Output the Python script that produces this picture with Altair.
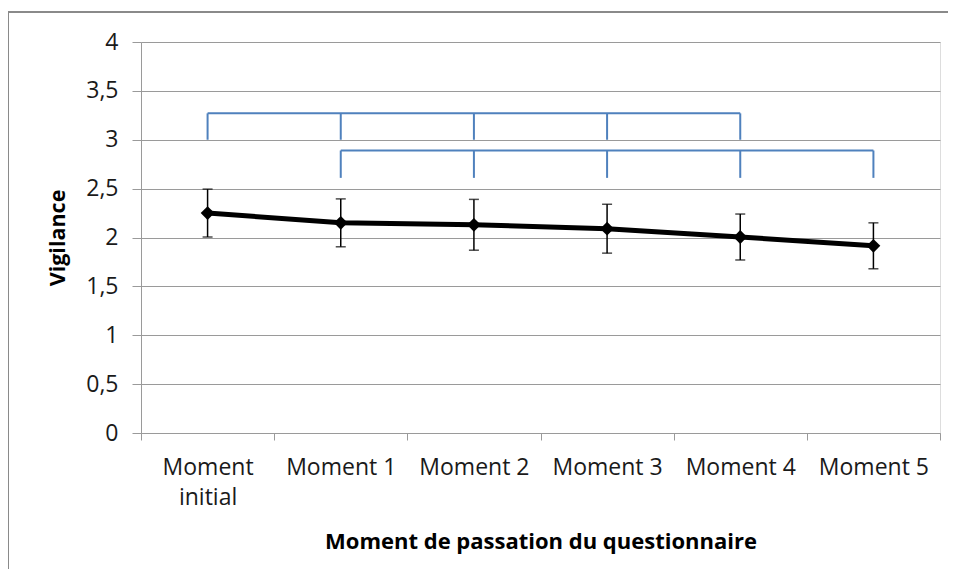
import altair as alt
import pandas as pd

categories = ["Moment initial", "Moment 1", "Moment 2", "Moment 3", "Moment 4", "Moment 5"]
means = [2.25, 2.15, 2.13, 2.09, 2.005, 1.915]
errors = [0.245, 0.245, 0.26, 0.25, 0.235, 0.235]

# significance brackets: (level, bottom of ticks, list of categories)
bracket_levels = [3.27, 2.89]
bracket_bottoms = [3.0, 2.61]
bracket_members = [
    ["Moment initial", "Moment 1", "Moment 2", "Moment 3", "Moment 4"],
    ["Moment 1", "Moment 2", "Moment 3", "Moment 4", "Moment 5"],
]

FONT = "Open Sans"
GRAY = "#9a9a9a"
BLUE = "#4f81bd"

df = pd.DataFrame({
    "moment": categories,
    "mean": means,
    "lo": [m - e for m, e in zip(means, errors)],
    "hi": [m + e for m, e in zip(means, errors)],
})

rows = []
for b, (lvl, bot, mem) in enumerate(zip(bracket_levels, bracket_bottoms, bracket_members)):
    for m in mem:
        rows.append({"bracket": b, "moment": m, "level": lvl, "bottom": bot})
bdf = pd.DataFrame(rows)

x_enc = alt.X(
    "moment:N",
    sort=categories,
    scale=alt.Scale(domain=categories, paddingInner=0, paddingOuter=0),
    axis=alt.Axis(
        title="Moment de passation  du questionnaire",
        labelAngle=0,
        tickBand="extent",
        tickSize=7,
        tickColor=GRAY,
        domainColor=GRAY,
        grid=False,
        labelFont=FONT,
        labelFontSize=23,
        labelColor="#1a1a1a",
        labelPadding=16,
        labelLineHeight=30,
        labelExpr="datum.label == 'Moment initial' ? ['Moment', 'initial'] : datum.label",
        titleFont=FONT,
        titleFontSize=22,
        titleFontWeight="bold",
        titleColor="#000000",
        titlePadding=22,
    ),
)

y_scale = alt.Scale(domain=[0, 4], nice=False)
y_axis = alt.Axis(
    title="Vigilance",
    values=[0, 0.5, 1, 1.5, 2, 2.5, 3, 3.5, 4],
    labelExpr="replace(format(datum.value, '.1~f'), '.', ',')",
    grid=True,
    gridColor=GRAY,
    tickColor=GRAY,
    domainColor=GRAY,
    tickSize=9,
    labelFont=FONT,
    labelFontSize=23,
    labelColor="#1a1a1a",
    labelPadding=14,
    titleFont=FONT,
    titleFontSize=21.5,
    titleFontWeight="bold",
    titleColor="#000000",
    titlePadding=16,
)

base = alt.Chart(df)

err_rule = base.mark_rule(color="#000000", strokeWidth=1.5).encode(
    x=x_enc, y=alt.Y("lo:Q", scale=y_scale, axis=y_axis), y2="hi:Q"
)
cap_lo = base.mark_tick(color="#000000", orient="horizontal", size=10, thickness=1.5).encode(
    x=alt.X("moment:N", sort=categories), y="lo:Q"
)
cap_hi = base.mark_tick(color="#000000", orient="horizontal", size=10, thickness=1.5).encode(
    x=alt.X("moment:N", sort=categories), y="hi:Q"
)
line = base.mark_line(color="#000000", strokeWidth=5).encode(
    x=alt.X("moment:N", sort=categories), y="mean:Q"
)
pts = base.mark_point(shape="diamond", filled=True, size=190, color="#000000", opacity=1).encode(
    x=alt.X("moment:N", sort=categories), y="mean:Q"
)

bbase = alt.Chart(bdf)
b_h = bbase.mark_line(color=BLUE, strokeWidth=2).encode(
    x=alt.X("moment:N", sort=categories), y="level:Q", detail="bracket:N"
)
b_v = bbase.mark_rule(color=BLUE, strokeWidth=2).encode(
    x=alt.X("moment:N", sort=categories), y="bottom:Q", y2="level:Q"
)

frame_df = pd.DataFrame({"k": [0]})
frame_left = alt.Chart(frame_df).mark_rule(color="#8a8a8a", strokeWidth=2).encode(
    x=alt.value(-133), y=alt.value(-30), y2=alt.value(545)
)
frame_top = alt.Chart(frame_df).mark_rule(color="#8a8a8a", strokeWidth=2).encode(
    x=alt.value(-134), x2=alt.value(820), y=alt.value(-30)
)

chart = alt.layer(
    err_rule, cap_lo, cap_hi, b_h, b_v, line, pts, frame_left, frame_top
).properties(
    width=799,
    height=391,
    autosize=alt.AutoSizeParams(type="none"),
    padding={"left": 133, "top": 34, "right": 8, "bottom": 136},
).configure_view(stroke=None).configure(background="white")

chart.save("out.html", embed_options={"renderer": "svg", "actions": False})
